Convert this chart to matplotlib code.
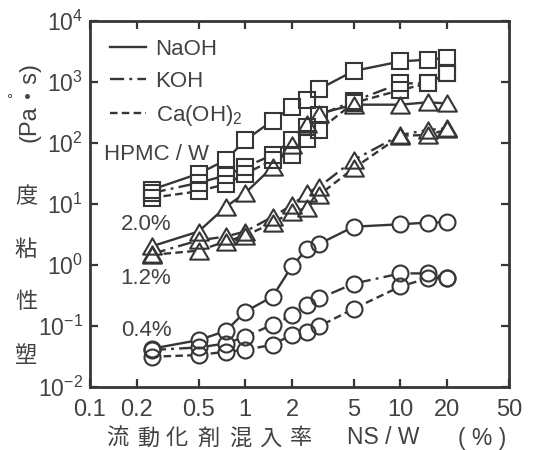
import matplotlib
matplotlib.use("Agg")
import matplotlib.pyplot as plt
from matplotlib.lines import Line2D
from matplotlib.path import Path

# ---------------- data ----------------
ns_w = [0.25, 0.5, 0.75, 1, 1.5, 2, 2.5, 3, 5, 10, 15, 20]

# HPMC/W = 2.0 %  (squares)
hp20_naoh = [17, 31, 52, 110, 230, 390, 500, 760, 1500, 2150, 2300, 2450]
hp20_koh  = [15, 22, 29, 40, 63, 112, 183, 284, 480, 940, 940, 1370]
hp20_caoh = [12.5, 16, 21, 31, 52, 63, 115, 162, 450, 730, 940, 1370]

# HPMC/W = 1.2 %  (triangles)
hp12_naoh = [2.0, 3.5, 8.9, 15, 40, 90, 200, 300, 420, 420, 460, 440]
hp12_koh  = [1.5, 2.5, 2.9, 3.5, 6.1, 9.5, 15, 19, 52, 134, 162, 172]
hp12_caoh = [1.45, 1.7, 2.4, 3.0, 4.8, 7.4, 8.4, 14, 38, 130, 134, 165]

# HPMC/W = 0.4 %  (circles)
hp04_naoh = [0.042, 0.058, 0.082, 0.17, 0.30, 0.95, 1.8, 2.2, 4.2, 4.6, 4.9, 5.0]
hp04_koh  = [0.040, 0.044, 0.051, 0.066, 0.104, 0.147, 0.215, 0.28, 0.49, 0.72, 0.72, 0.60]
hp04_caoh = [0.031, 0.033, 0.0375, 0.040, 0.049, 0.071, 0.080, 0.098, 0.19, 0.44, 0.60, 0.60]

x_ticks = [0.1, 0.2, 0.5, 1, 2, 5, 10, 20, 50]
x_ticklabels = ["0.1", "0.2", "0.5", "1", "2", "5", "10", "20", "50"]
y_ticks = [1e-2, 1e-1, 1e0, 1e1, 1e2, 1e3, 1e4]
y_ticklabels = ["$10^{-2}$", "$10^{-1}$", "$10^{0}$", "$10^{1}$", "$10^{2}$", "$10^{3}$", "$10^{4}$"]

legend_labels = ["NaOH", "KOH", "Ca(OH)$_2$"]
hpmc_labels = ["2.0%", "1.2%", "0.4%"]

# ---------------- style ----------------
plt.rcParams['font.family'] = ['Liberation Sans', 'Noto Sans CJK JP', 'DejaVu Sans']
plt.rcParams['mathtext.fontset'] = 'custom'
plt.rcParams['mathtext.rm'] = 'Liberation Sans'
plt.rcParams['mathtext.it'] = 'Liberation Sans'
plt.rcParams['mathtext.bf'] = 'Liberation Sans'

INK = '#363636'
TXT = '#424242'
W, H = 535, 450

fig = plt.figure(figsize=(W / 100, H / 100), dpi=100)
fig.patch.set_facecolor('white')
ax = fig.add_axes([90 / W, 1 - 386.7 / H, (509 - 90) / W, (386.7 - 20.7) / H])

styles = {
    'naoh': dict(linestyle='-'),
    'koh': dict(linestyle=(0, (6, 2.2, 1.2, 2.2))),
    'caoh': dict(linestyle=(0, (3.2, 1.8))),
}

tri = Path([(0, 0.433), (-0.5, -0.433), (0.5, -0.433), (0, 0.433)],
           [Path.MOVETO, Path.LINETO, Path.LINETO, Path.CLOSEPOLY])
groups = [
    ('s', 11, [hp20_naoh, hp20_koh, hp20_caoh]),
    (tri, 13.5, [hp12_naoh, hp12_koh, hp12_caoh]),
    ('o', 11.5, [hp04_naoh, hp04_koh, hp04_caoh]),
]

for marker, ms, series in groups:
    for vals, key in zip(series, ['naoh', 'koh', 'caoh']):
        ax.plot(ns_w, vals, color=INK, lw=1.7, zorder=2, **styles[key])
        ax.plot(ns_w, vals, linestyle='none', marker=marker, ms=ms,
                mfc='white', mec='white', mew=0, zorder=3)
        ax.plot(ns_w, vals, linestyle='none', marker=marker, ms=ms,
                mfc='none', mec=INK, mew=1.5, zorder=4)

ax.set_xscale('log')
ax.set_yscale('log')
ax.set_xlim(0.1, 50)
ax.set_ylim(1e-2, 1e4)
ax.set_xticks(x_ticks)
ax.set_xticklabels(x_ticklabels)
ax.set_yticks(y_ticks)
ax.set_yticklabels(y_ticklabels)
ax.minorticks_off()
ax.tick_params(which='major', direction='in', length=6, width=1.6, color=INK,
               top=True, right=True, labelcolor=TXT)
ax.tick_params(axis='x', labelsize=17, pad=9)
ax.tick_params(axis='y', labelsize=16.5, pad=5)
for s in ax.spines.values():
    s.set_linewidth(2.0)
    s.set_color(INK)

# legend
handles = [Line2D([], [], color=INK, lw=1.7, **styles[k]) for k in ['naoh', 'koh', 'caoh']]
leg = ax.legend(handles, legend_labels, loc='upper left', bbox_to_anchor=(20 / 419, 1 - 18 / 366),
                frameon=False, fontsize=16, handlelength=1.6, handletextpad=0.45,
                labelspacing=0.5, borderpad=0, borderaxespad=0)
for t in leg.get_texts():
    t.set_color(TXT)

def ftext(px, py, s, **kw):
    fig.text(px / W, 1 - py / H, s, **kw)

ftext(104, 155, "HPMC / W", fontsize=16, color=TXT, va='center', ha='left')
for lab, py in zip(hpmc_labels, [224, 278, 330]):
    ftext(146, py, lab, fontsize=16, color=TXT, va='center', ha='center')

# y label: upright kanji stacked bottom-to-top, then rotated unit
for ch, py in zip("塑性粘度", [355, 302, 250, 197]):
    ftext(26, py, ch, fontsize=16, color=TXT, va='center', ha='center',
          family=['Noto Sans CJK JP'])
ftext(29, 102, "(Pa・s)", fontsize=17, color=TXT, va='center', ha='center', rotation=90,
      family=['Liberation Sans', 'Noto Sans CJK JP'])
ftext(9, 100, "°", fontsize=11, color=TXT, va='center', ha='center')

# x label
for ch, px in zip("流動化剤混入率", [117, 148, 177, 209, 240, 270, 301]):
    ftext(px, 438, ch, fontsize=16, color=TXT, va='center', ha='center',
          family=['Noto Sans CJK JP'])
ftext(383, 438, "NS / W", fontsize=16.5, color=TXT, va='center', ha='center')
ftext(482, 438, "( % )", fontsize=16.5, color=TXT, va='center', ha='center')

fig.savefig("out.png", dpi=100, facecolor='white')
